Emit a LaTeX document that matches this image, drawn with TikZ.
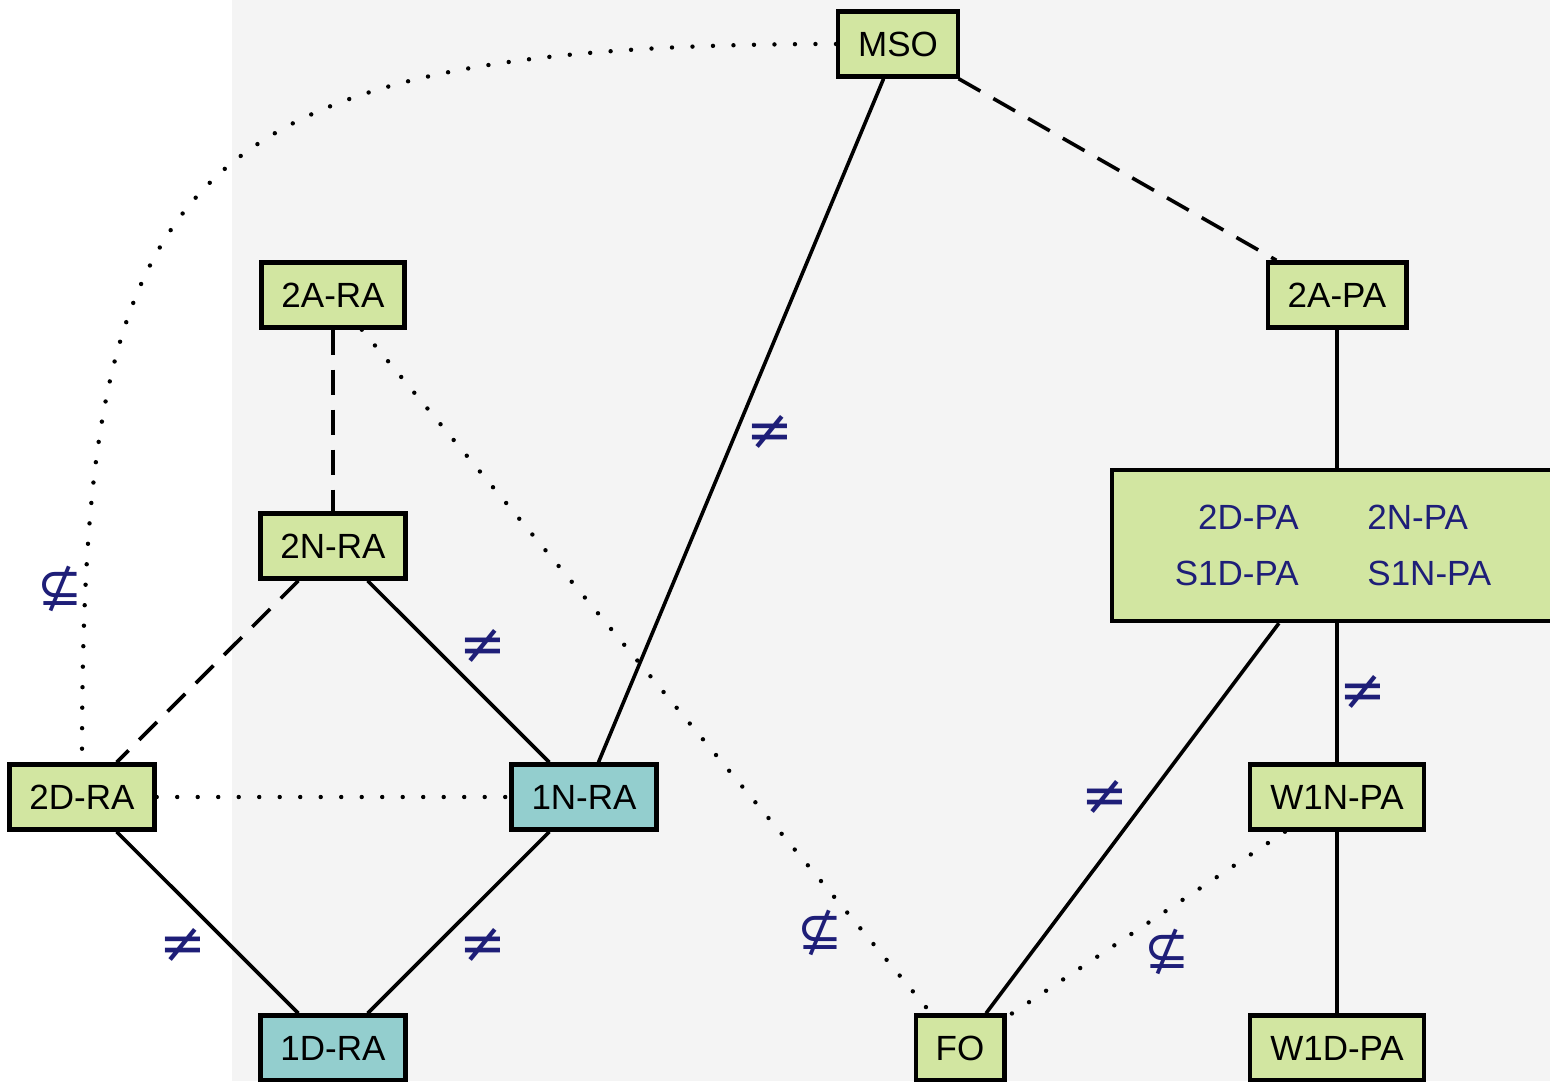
\documentclass[tikz,border=0pt]{standalone}
\usepackage{fontspec}
\setmainfont{Liberation Sans}
\newfontfamily\symfont{DejaVu Sans}
\definecolor{boxgreen}{RGB}{210,230,161}
\definecolor{boxteal}{RGB}{147,206,206}
\definecolor{panel}{RGB}{244,244,244}
\definecolor{relblue}{RGB}{30,30,120}
\begin{document}
\begin{tikzpicture}[x=0.5pt,y=-0.5pt,
  box/.style={draw=black,line width=2.2pt,fill=boxgreen,minimum height=32.5pt,
    inner xsep=10pt,inner ysep=0pt,font=\fontsize{17.5}{21}\selectfont},
  tealbox/.style={box,fill=boxteal},
  conn/.style={line width=1.8pt},
  dashconn/.style={conn,dash pattern=on 12.5pt off 7.5pt},
  dotconn/.style={line width=2.2pt,line cap=round,dash pattern=on 0pt off 10.25pt},
  rel/.style={text=relblue,font=\symfont\fontsize{28}{32}\selectfont,inner sep=0pt},
  nsub/.style={rel,font=\symfont\fontsize{27}{31}\selectfont},
  paname/.style={text=relblue,inner sep=0pt,font=\fontsize{17.5}{21}\selectfont}
]
% canvas and shaded panel
\useasboundingbox (0,0) rectangle (1550,1081);
\fill[white] (0,0) rectangle (1550,1081);
\fill[panel] (232,0) rectangle (1550,1081);

% classes
\node[box] (mso) at (898,44) {MSO};
\node[box] (2ara) at (333,295) {2A-RA};
\node[box] (2apa) at (1337,295) {2A-PA};
\node[box] (2nra) at (333,546) {2N-RA};
\node[box] (2dra) at (82,797) {2D-RA};
\node[tealbox] (1nra) at (584,797) {1N-RA};
\node[box] (w1npa) at (1337,797) {W1N-PA};
\node[tealbox] (1dra) at (333,1048) {1D-RA};
\node[box] (fo) at (960,1048) {FO};
\node[box] (w1dpa) at (1337,1048) {W1D-PA};
\node[box,minimum width=225pt,minimum height=75.5pt] (pa) at (1337,545.5) {};
\node[paname,anchor=base east] (p2d) at (1299,529) {2D-PA};
\node[paname,anchor=base west] (p2n) at (1367,529) {2N-PA};
\node[paname,anchor=base east] (ps1d) at (1299,585) {S1D-PA};
\node[paname,anchor=base west] (ps1n) at (1367,585) {S1N-PA};

% solid links
\draw[conn] (mso) -- (1nra);
\draw[conn] (2nra) -- (1nra);
\draw[conn] (2dra) -- (1dra);
\draw[conn] (1nra) -- (1dra);
\draw[conn] (2apa) -- (pa);
\draw[conn] (pa) -- (w1npa);
\draw[conn] (w1npa) -- (w1dpa);
\draw[conn] (fo) -- (pa);

% dashed links
\draw[dashconn] (mso) -- (2apa);
\draw[dashconn] (2ara) -- (2nra);
\draw[dashconn] (2nra) -- (2dra);

% dotted links
\draw[dotconn] (mso) to[out=180,in=90,out distance=340pt,in distance=286pt] (2dra);
\draw[dotconn] (2dra) -- (1nra);
\draw[dotconn] (2ara) -- (fo);
\draw[dotconn] (w1npa) -- (fo);

% relation marks
\node[rel] (r1) at (770,432) {≠};
\node[rel] (r2) at (483,646) {≠};
\node[rel] (r3) at (1363,692) {≠};
\node[rel] (r4) at (1105,797) {≠};
\node[rel] (r5) at (183,945) {≠};
\node[rel] (r6) at (483,945) {≠};
\node[nsub] (s1) at (60,589) {⊈};
\node[nsub] (s2) at (820,933) {⊈};
\node[nsub] (s3) at (1167,952) {⊈};
\end{tikzpicture}
\end{document}
